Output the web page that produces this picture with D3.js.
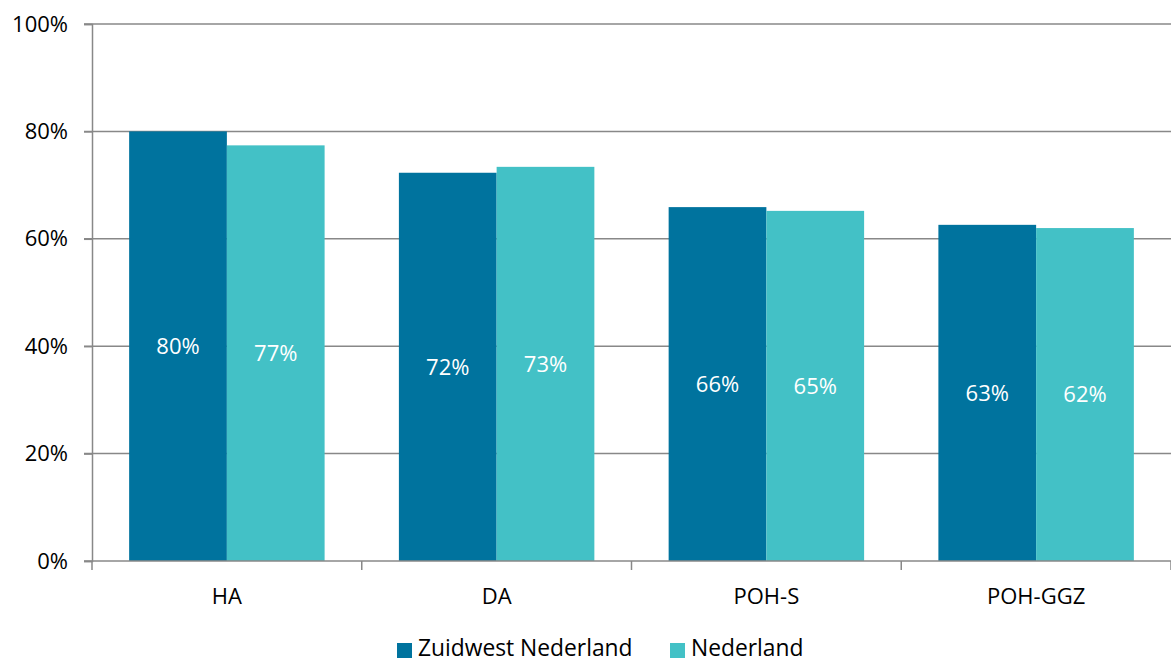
<!DOCTYPE html>
<html><head><meta charset="utf-8">
<script src="https://cdn.jsdelivr.net/npm/d3@7"></script>
<style>body{margin:0;background:#fff}svg{display:block;font-family:"Open Sans","Liberation Sans",sans-serif}</style>
</head><body><svg id="c" width="1171" height="662"></svg>
<script>
const categories = ["HA","DA","POH-S","POH-GGZ"];
const seriesNames = ["Zuidwest Nederland","Nederland"];
const zuidwest = [80.0, 72.3, 65.9, 62.6];
const nederland = [77.4, 73.4, 65.2, 62.0];
const labelsZW = ["80%","72%","66%","63%"];
const labelsNL = ["77%","73%","65%","62%"];
const yTicks = [0,20,40,60,80,100];
const colors = ["#00739E","#43C1C6"];

const FONT = "'Open Sans', 'Liberation Sans', sans-serif";
const svg = d3.select("#c");
const m = {l:92, r:0, t:24, b:101};
const W = 1171, H = 662;
const x = d3.scaleBand().domain(categories).range([m.l, W - m.r]).paddingInner(0).paddingOuter(0);
const xs = d3.scaleBand().domain(seriesNames).range([0, x.bandwidth()]).paddingInner(0).paddingOuter(0.38);
const y = d3.scaleLinear().domain([0,100]).range([H - m.b, m.t]);

// gridlines
svg.append("g").selectAll("line").data(yTicks.filter(d=>d>0)).join("line")
  .attr("x1", m.l-8).attr("x2", W).attr("y1", d=>y(d)).attr("y2", d=>y(d))
  .attr("stroke","#888").attr("stroke-width",1.5);

const data = categories.map((c,i)=>({c, vals:[{s:seriesNames[0],v:zuidwest[i],l:labelsZW[i]},{s:seriesNames[1],v:nederland[i],l:labelsNL[i]}]}));
const g = svg.append("g").selectAll("g").data(data).join("g").attr("transform", d=>`translate(${x(d.c)},0)`);
g.selectAll("rect").data(d=>d.vals).join("rect")
  .attr("x", d=>xs(d.s)).attr("width", xs.bandwidth())
  .attr("y", d=>y(d.v)).attr("height", d=>y(0)-y(d.v))
  .attr("fill", (d,i)=>colors[i]);
g.selectAll("text").data(d=>d.vals).join("text")
  .attr("x", d=>xs(d.s)+xs.bandwidth()/2).attr("y", d=>(y(d.v)+y(0))/2)
  .attr("dy","0.36em").attr("text-anchor","middle").attr("fill","#fff")
  .attr("font-size",22).text(d=>d.l);

// y axis
const ya = svg.append("g").attr("transform",`translate(${m.l},0)`)
  .call(d3.axisLeft(y).tickValues(yTicks).tickFormat(d=>d+"%").tickSize(8).tickPadding(16));
ya.select(".domain").attr("stroke","#888").attr("stroke-width",1.5);
ya.selectAll(".tick line").attr("stroke","#888").attr("stroke-width",1.5);
ya.selectAll(".tick text").attr("font-size",22).attr("fill","#000").attr("font-family",FONT);

// x axis
const xa = svg.append("g").attr("transform",`translate(0,${y(0)})`);
xa.append("line").attr("x1", m.l-8).attr("x2", W).attr("stroke","#888").attr("stroke-width",1.5);
const bounds = categories.map(c=>x(c)).concat([x(categories[categories.length-1])+x.bandwidth()]);
xa.selectAll("line.t").data(bounds).join("line").attr("class","t")
  .attr("x1",d=>d).attr("x2",d=>d).attr("y1",0).attr("y2",9).attr("stroke","#888").attr("stroke-width",1.5);
xa.selectAll("text").data(categories).join("text")
  .attr("x", d=>x(d)+x.bandwidth()/2).attr("y", 43).attr("text-anchor","middle")
  .attr("font-size",22).attr("fill","#000").text(d=>d);

// legend
const legX = [397, 670];
const lg = svg.append("g").selectAll("g").data(seriesNames).join("g").attr("transform",(d,i)=>`translate(${legX[i]},643)`);
lg.append("rect").attr("width",15).attr("height",15).attr("fill",(d,i)=>colors[i]);
lg.append("text").attr("x",21).attr("y",13).attr("font-size",22.8).attr("fill","#000").text(d=>d);
</script></body></html>
